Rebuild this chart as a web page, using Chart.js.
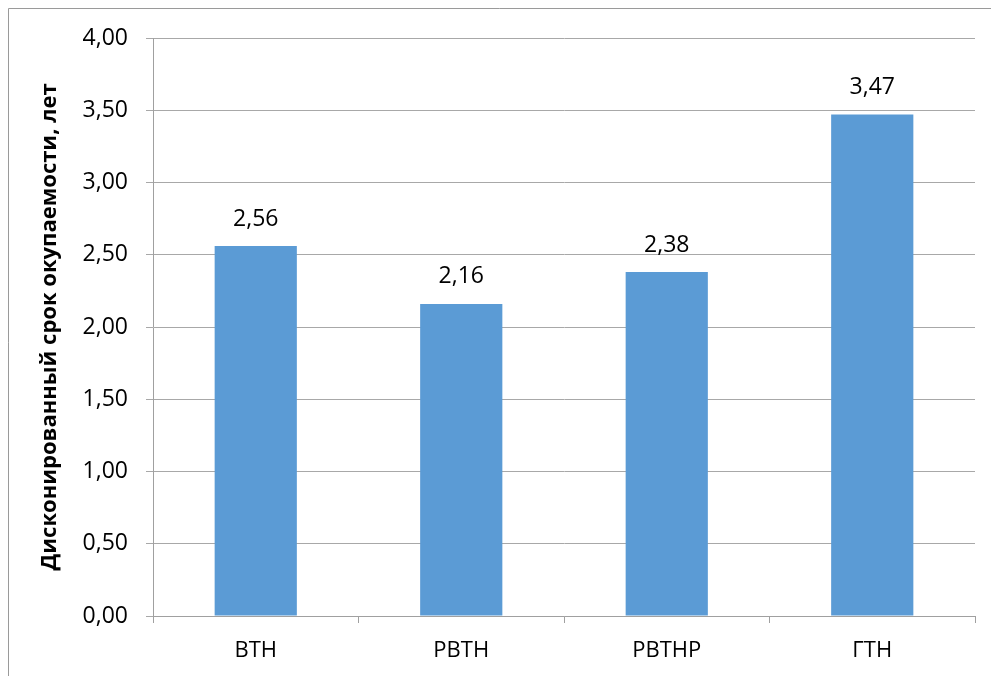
<!DOCTYPE html>
<html>
<head>
<meta charset="utf-8">
<script src="https://cdn.jsdelivr.net/npm/chart.js@4/dist/chart.umd.min.js"></script>
<style>
  html, body { margin: 0; padding: 0; background: #fff; }
  #wrap { position: relative; width: 991px; height: 676px; }
</style>
</head>
<body>
<div id="wrap"><canvas id="c" width="991" height="676"></canvas></div>
<script>
// Discounted payback period by technology variant
const categories = ['ВТН', 'РВТН', 'РВТНР', 'ГТН'];
const paybackYears = [2.56, 2.16, 2.38, 3.47];
const yTickValues = [0, 0.5, 1, 1.5, 2, 2.5, 3, 3.5, 4];

const FONT = '"Open Sans", "DejaVu Sans", sans-serif';
const fmt = v => v.toFixed(2).replace('.', ',');

// Thin frame along the top and left edges
const framePlugin = {
  id: 'frame',
  beforeDraw(chart) {
    const ctx = chart.ctx;
    ctx.save();
    ctx.strokeStyle = '#9a9a9a';
    ctx.lineWidth = 1;
    ctx.beginPath();
    ctx.moveTo(8.5, 676);
    ctx.lineTo(8.5, 8.5);
    ctx.lineTo(991, 8.5);
    ctx.stroke();
    ctx.restore();
  }
};

// Value labels above each bar
const valueLabels = {
  id: 'valueLabels',
  afterDatasetsDraw(chart) {
    const ctx = chart.ctx;
    const meta = chart.getDatasetMeta(0);
    const data = chart.data.datasets[0].data;
    ctx.save();
    ctx.font = '23px ' + FONT;
    ctx.fillStyle = '#000';
    ctx.textAlign = 'center';
    ctx.textBaseline = 'middle';
    meta.data.forEach((bar, i) => {
      ctx.fillText(fmt(data[i]), bar.x, bar.y - 27);
    });
    ctx.restore();
  }
};

new Chart(document.getElementById('c'), {
  type: 'bar',
  data: {
    labels: categories,
    datasets: [{
      data: paybackYears,
      backgroundColor: '#5b9bd5',
      borderWidth: 0,
      barPercentage: 0.4,
      categoryPercentage: 1.0
    }]
  },
  options: {
    responsive: false,
    animation: false,
    events: [],
    layout: { padding: { left: 37, top: 38, right: 16, bottom: 0 } },
    plugins: {
      legend: { display: false },
      tooltip: { enabled: false }
    },
    scales: {
      y: {
        min: 0,
        max: 4,
        afterBuildTicks(scale) {
          scale.ticks = yTickValues.map(v => ({ value: v }));
        },
        afterFit(scale) { scale.width = 116; },
        ticks: {
          callback: v => fmt(v),
          font: { family: FONT, size: 23 },
          color: '#000',
          padding: 18
        },
        grid: {
          color: '#a8a8a8',
          lineWidth: 1,
          tickLength: 7
        },
        border: { color: '#a0a0a0', width: 1 },
        title: {
          display: true,
          text: 'Дисконированный срок окупаемости, лет',
          font: { family: FONT, size: 22, weight: 'bold' },
          color: '#000',
          padding: 0
        }
      },
      x: {
        afterFit(scale) { scale.height = 60; },
        ticks: {
          font: { family: FONT, size: 22 },
          color: '#000',
          padding: 15
        },
        grid: {
          offset: true,
          drawOnChartArea: false,
          color: '#a0a0a0',
          tickLength: 7
        },
        border: { color: '#a0a0a0', width: 1 }
      }
    }
  },
  plugins: [framePlugin, valueLabels]
});
</script>
</body>
</html>
